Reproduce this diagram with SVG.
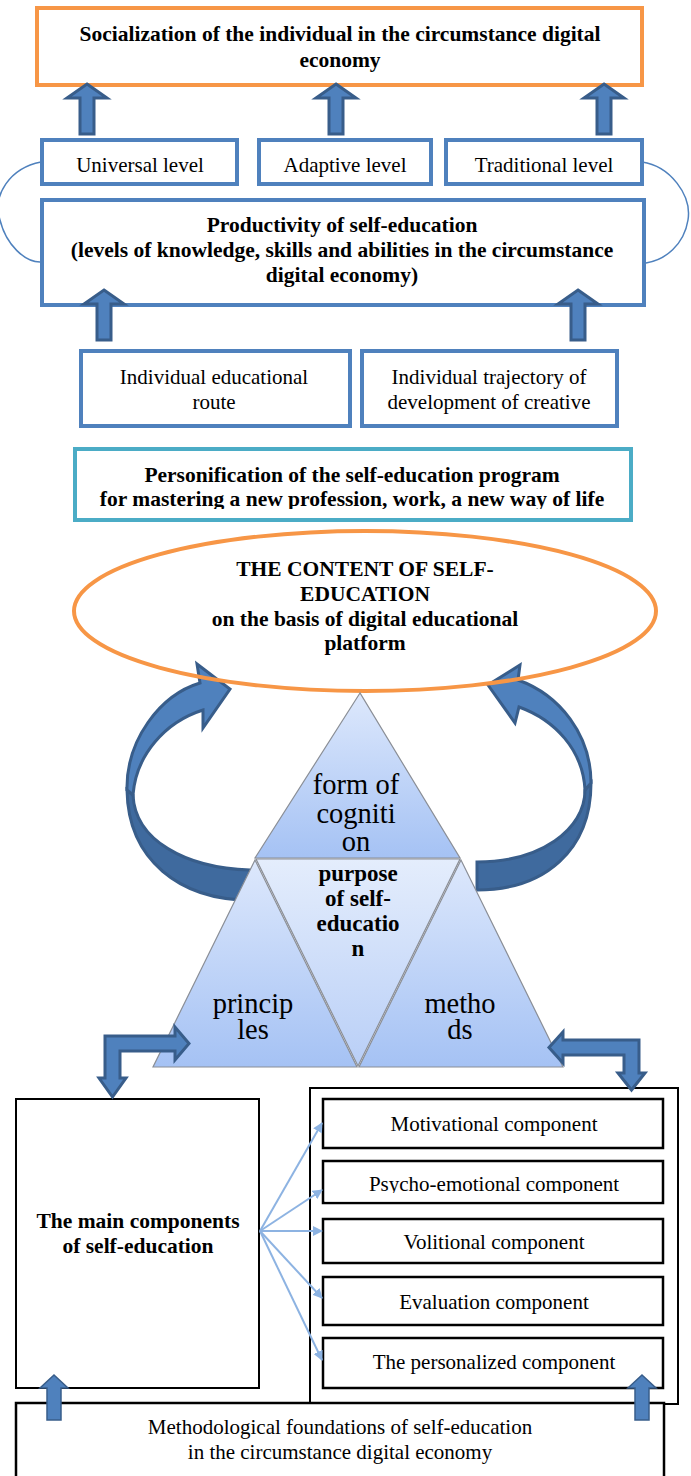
<svg xmlns="http://www.w3.org/2000/svg" xmlns:xlink="http://www.w3.org/1999/xlink" width="691" height="1476" viewBox="0 0 691 1476" font-family="'Liberation Serif', 'Times New Roman', serif">
<style>
.t{fill:#000;text-anchor:middle;font-size:21px}
.b{font-weight:bold;font-size:21.5px}
.big{font-size:28.5px}
.blue{fill:#fff;stroke:#4F81BD;stroke-width:4}
.blk{fill:#fff;stroke:#000;stroke-width:2.5}
.barrow{fill:#4F81BD;stroke:#385D8A;stroke-width:3;stroke-linejoin:miter}
.dark{fill:#3F6A9E;stroke:#385D8A;stroke-width:3}
.thin{fill:none;stroke:#4F81BD;stroke-width:1.5}
.fan{stroke:#8DB3E2;stroke-width:2;fill:none}
.tri{stroke:#8A8E96;stroke-width:1.2}
</style>
<defs>
<path id="up" d="M0 0 L20 14 L7 14 L7 50 L-7 50 L-7 14 L-20 14 Z"/>
<path id="upS" d="M0 0 L14 13 L7 13 L7 45 L-7 45 L-7 13 L-14 13 Z"/>
<marker id="ah" viewBox="0 0 10 10" refX="9" refY="5" markerWidth="5" markerHeight="5" orient="auto" markerUnits="strokeWidth">
<path d="M0 0 L10 5 L0 10 Z" fill="#8DB3E2"/>
</marker>
<linearGradient id="g1" x1="0" y1="0" x2="0" y2="1">
<stop offset="0" stop-color="#DDE8FC"/><stop offset="1" stop-color="#A5C2F4"/>
</linearGradient>
<linearGradient id="g2" x1="0" y1="0" x2="0" y2="1">
<stop offset="0" stop-color="#E4EDFC"/><stop offset="1" stop-color="#B9CFF7"/>
</linearGradient>
</defs>

<g id="curved-connectors">
<path class="thin" d="M41 162 C10 168 -8 195 0 220 C6 245 25 262 40 262"/>
<path class="thin" d="M642 162 C670 166 692 195 688 220 C684 245 665 260 646 263"/>
<g id="curved-left">
<path class="dark" d="M127 790 C128 860 180 900 250 900 L250 870 C185 868 135 840 133 795 Z"/>
<path class="barrow" d="M127 790 C126 740 160 695 200 683 L197 664 L230 689 L203 728 L203 710 C165 722 136 755 133 795 Z"/>
</g>
<g id="curved-right">
<path class="dark" d="M591 783 C591 850 545 890 477 890 L477 862 C540 862 585 830 585 790 Z"/>
<path class="barrow" d="M591 783 C591 735 560 695 518 680 L520 665 L488 685 L515 723 L519 707 C555 720 583 750 585 790 Z"/>
</g>
</g>

<g id="n-social">
<rect x="37" y="8" width="605" height="77" fill="#fff" stroke="#F79646" stroke-width="4"/>
<text class="t b" x="340" y="41">Socialization of the individual in the circumstance digital</text>
<text class="t b" x="340" y="67">economy</text>
</g>
<g id="n-universal">
<rect class="blue" x="42" y="140" width="195" height="44"/>
<text class="t" x="140" y="172">Universal level</text>
</g>
<g id="n-adaptive">
<rect class="blue" x="259" y="140" width="172" height="44"/>
<text class="t" x="345" y="172">Adaptive level</text>
</g>
<g id="n-traditional">
<rect class="blue" x="446" y="140" width="196" height="44"/>
<text class="t" x="544" y="172">Traditional level</text>
</g>
<g id="n-productivity">
<rect class="blue" x="42" y="200" width="602" height="105"/>
<text class="t b" x="342" y="232">Productivity of self-education</text>
<text class="t b" x="342" y="257">(levels of knowledge, skills and abilities in the circumstance</text>
<text class="t b" x="342" y="282">digital economy)</text>
</g>
<g id="n-route">
<rect class="blue" x="81" y="351" width="269" height="75"/>
<text class="t" x="214" y="384">Individual educational</text>
<text class="t" x="214" y="409">route</text>
</g>
<g id="n-trajectory">
<rect class="blue" x="362" y="351" width="255" height="75"/>
<text class="t" x="489" y="384">Individual trajectory of</text>
<text class="t" x="489" y="409">development of creative</text>
</g>
<g id="n-personification">
<rect x="75" y="449" width="556" height="71" fill="#fff" stroke="#4BACC6" stroke-width="4"/>
<text class="t b" x="352" y="482">Personification of the self-education program</text>
<text class="t b" x="352" y="506">for mastering a new profession, work, a new way of life</text>
<rect x="77" y="509" width="552" height="9" fill="#fff"/>
</g>

<g id="n-content">
<ellipse cx="365" cy="611" rx="291" ry="80" fill="none" stroke="#F79646" stroke-width="4"/>
<text class="t b" x="365" y="576">THE CONTENT OF SELF-</text>
<text class="t b" x="365" y="601">EDUCATION</text>
<text class="t b" x="365" y="626">on the basis of digital educational</text>
<text class="t b" x="365" y="650">platform</text>
</g>

<g id="n-triangle">
<polygon class="tri" points="360,693 255,858 460,858" fill="url(#g1)"/>
<polygon class="tri" points="255,860 153,1067 357,1067" fill="url(#g1)"/>
<polygon class="tri" points="461,860 359,1067 563,1067" fill="url(#g1)"/>
<polygon class="tri" points="256,859 460,859 358,1066" fill="url(#g2)"/>
<text class="t big" x="356" y="794">form of</text>
<text class="t big" x="356" y="823">cogniti</text>
<text class="t big" x="356" y="851">on</text>
<text class="t b" x="358" y="881" style="font-size:23px">purpose</text>
<text class="t b" x="358" y="906" style="font-size:23px">of self-</text>
<text class="t b" x="358" y="931" style="font-size:23px">educatio</text>
<text class="t b" x="358" y="956" style="font-size:23px">n</text>
<text class="t big" x="253" y="1013">princip</text>
<text class="t big" x="253" y="1039">les</text>
<text class="t big" x="460" y="1013">metho</text>
<text class="t big" x="460" y="1039">ds</text>
</g>

<g id="n-container">
<rect x="310" y="1088" width="368" height="316" fill="#fff" stroke="#000" stroke-width="2"/>
</g>
<g id="n-main">
<rect x="16" y="1099" width="243" height="289" fill="#fff" stroke="#000" stroke-width="2"/>
<text class="t b" x="138" y="1228">The main components</text>
<text class="t b" x="138" y="1253">of self-education</text>
</g>
<g id="n-motivational">
<rect class="blk" x="323" y="1099" width="340" height="49"/>
<text class="t" x="494" y="1131">Motivational component</text>
</g>
<g id="n-psycho">
<rect class="blk" x="323" y="1161" width="340" height="42"/>
<text class="t" x="494" y="1191">Psycho-emotional component</text>
<rect x="325" y="1193" width="336" height="8.5" fill="#fff"/>
</g>
<g id="n-volitional">
<rect class="blk" x="323" y="1219" width="340" height="44"/>
<text class="t" x="494" y="1249">Volitional component</text>
</g>
<g id="n-evaluation">
<rect class="blk" x="323" y="1277" width="340" height="48"/>
<text class="t" x="494" y="1309">Evaluation component</text>
</g>
<g id="n-personalized">
<rect class="blk" x="323" y="1338" width="340" height="50"/>
<text class="t" x="494" y="1369">The personalized component</text>
</g>
<g id="n-method">
<rect x="16" y="1403" width="648" height="90" fill="#fff" stroke="#000" stroke-width="2.5"/>
<text class="t" x="340" y="1434">Methodological foundations of self-education</text>
<text class="t" x="340" y="1459">in the circumstance digital economy</text>
</g>

<g id="connectors">
<g id="block-arrows" class="barrow">
<use xlink:href="#up" x="87" y="84"/>
<use xlink:href="#up" x="336" y="84"/>
<use xlink:href="#up" x="604" y="84"/>
<use xlink:href="#up" x="104" y="290"/>
<use xlink:href="#up" x="578" y="290"/>
</g>
<path class="barrow" d="M105 1036 L175 1036 L175 1027 L189 1043.5 L175 1060 L175 1051 L120 1051 L120 1078 L126 1078 L112.5 1097 L99 1078 L105 1078 Z"/>
<path class="barrow" d="M639 1040 L563 1040 L563 1032 L549 1047.5 L563 1063 L563 1055 L624 1055 L624 1073 L618 1073 L631.5 1090 L645 1073 L639 1073 Z"/>
<g id="fan-connectors">
<line class="fan" x1="260" y1="1231" x2="322" y2="1123" marker-end="url(#ah)"/>
<line class="fan" x1="260" y1="1231" x2="322" y2="1190" marker-end="url(#ah)"/>
<line class="fan" x1="260" y1="1231" x2="322" y2="1231" marker-end="url(#ah)"/>
<line class="fan" x1="260" y1="1231" x2="322" y2="1298" marker-end="url(#ah)"/>
<line class="fan" x1="260" y1="1231" x2="322" y2="1360" marker-end="url(#ah)"/>
</g>
<g id="bottom-arrows" fill="#4F81BD" stroke="#385D8A" stroke-width="1.5">
<use xlink:href="#upS" x="54" y="1375"/>
<use xlink:href="#upS" x="642" y="1375"/>
</g>
</g>
</svg>
